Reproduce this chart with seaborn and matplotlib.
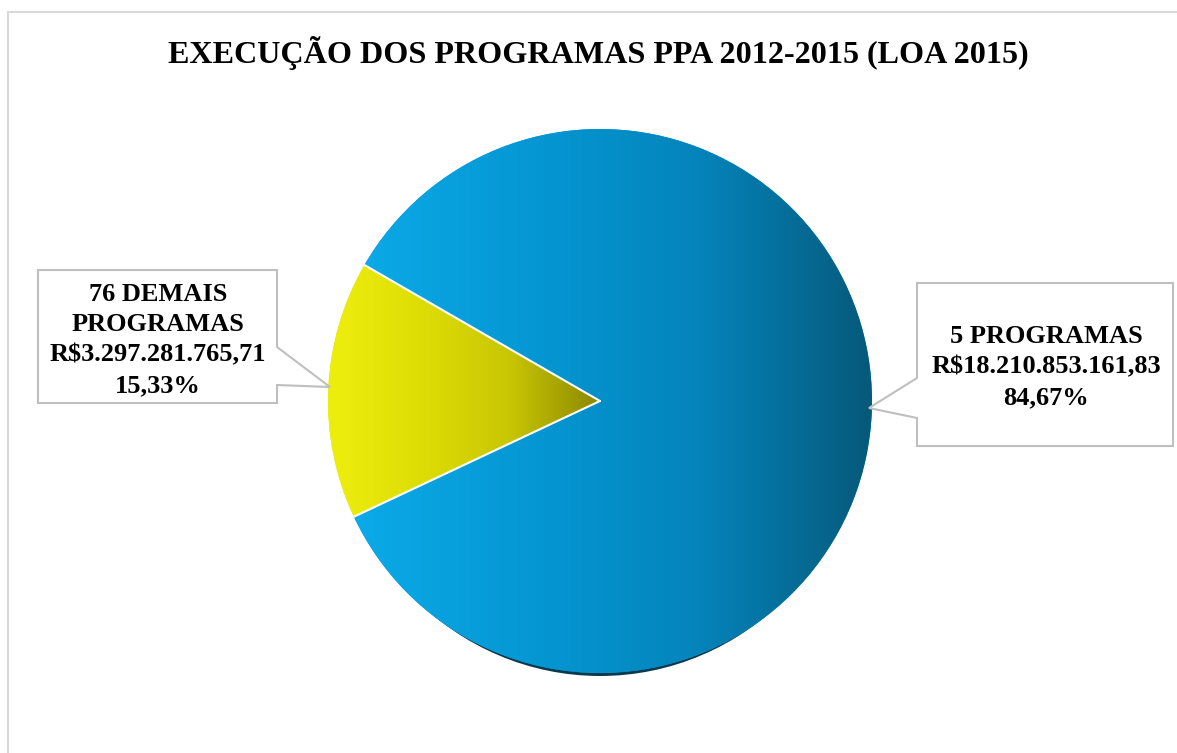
import numpy as np
import matplotlib
matplotlib.use("Agg")
import matplotlib.pyplot as plt
from matplotlib.patches import Polygon, Ellipse
from matplotlib.lines import Line2D
import seaborn as sns

# ---- data ----
title = "EXECUÇÃO DOS PROGRAMAS PPA 2012-2015 (LOA 2015)"
categories = ["76 DEMAIS\nPROGRAMAS", "5 PROGRAMAS"]
values = [3297281765.71, 18210853161.83]
value_labels = ["R$3.297.281.765,71", "R$18.210.853.161,83"]
pct_labels = ["15,33%", "84,67%"]

sns.set_theme(style="white")
plt.rcParams['font.family'] = ['Liberation Serif', 'DejaVu Serif']
plt.rcParams['text.color'] = 'black'

W, H = 1177, 753
fig = plt.figure(figsize=(W / 100, H / 100), dpi=100)
ax = fig.add_axes([0, 0, 1, 1])

def Y(y):  # image-y to data-y
    return H - y

cx, cy, R = 600, Y(401), 272

# thin shadow rim under pie (bottom only)
ax.add_patch(Ellipse((cx, cy - 3), 2 * R - 14, 2 * R, facecolor='#0b3a4f', edgecolor='none', zorder=1))

wedges, _ = ax.pie(values, startangle=150, counterclock=True, center=(cx, cy), radius=R,
                   colors=['#e3e30a', '#0a9bd8'],
                   wedgeprops=dict(edgecolor='none', linewidth=0), frame=True)
ax.set_xlim(0, W)
ax.set_ylim(0, H)
ax.set_aspect('equal')
ax.axis('off')

grads = [sns.blend_palette(['#eeee0e', '#dede06', '#c9c604', '#8c8800'], 256),
         sns.blend_palette(['#0baae8', '#0598d4', '#0484bb', '#06597a'], 256)]
for w, pal in zip(wedges, grads):
    w.set_zorder(2)
    bb = w.get_path().get_extents(w.get_patch_transform())
    img = np.array(pal)[None, :, :]
    im = ax.imshow(img, extent=[bb.x0, bb.x1, bb.y0, bb.y1], aspect='auto', zorder=3,
                   interpolation='bilinear')
    im.set_clip_path(w)
ax.set_xlim(0, W)
ax.set_ylim(0, H)

# white separators between slices
for w in wedges:
    a = np.deg2rad(w.theta1)
    ax.add_line(Line2D([cx, cx + R * np.cos(a)], [cy, cy + R * np.sin(a)],
                       color='white', linewidth=1.5, zorder=4))

# title
ax.text(598, Y(53), title, ha='center', va='center', fontsize=23.1, fontweight='bold',
        color='black', zorder=6)

# callout boxes
edge = '#bfbfbf'
left_box = [(38, 270), (277, 270), (277, 347), (330, 387), (277, 385), (277, 403), (38, 403)]
right_box = [(917, 283), (1173, 283), (1173, 446), (917, 446), (917, 418), (869, 408), (917, 378)]
for pts in (left_box, right_box):
    ax.add_patch(Polygon([(x, Y(y)) for x, y in pts], closed=True, facecolor='white',
                         edgecolor=edge, linewidth=1.5, zorder=5))

ax.text(158, Y(340), f"{categories[0]}\n{value_labels[0]}\n{pct_labels[0]}", ha='center', va='center',
        fontsize=19, fontweight='bold', linespacing=1.42, color='black', zorder=6)
ax.text(1046, Y(367), f"{categories[1]}\n{value_labels[1]}\n{pct_labels[1]}", ha='center', va='center',
        fontsize=19, fontweight='bold', linespacing=1.42, color='black', zorder=6)

# figure border (top & left)
ax.add_line(Line2D([8, W], [Y(12), Y(12)], color='#d9d9d9', linewidth=1.5, zorder=7))
ax.add_line(Line2D([8, 8], [Y(12), 0], color='#d9d9d9', linewidth=1.5, zorder=7))

fig.savefig('out.png', dpi=100, facecolor='white')
